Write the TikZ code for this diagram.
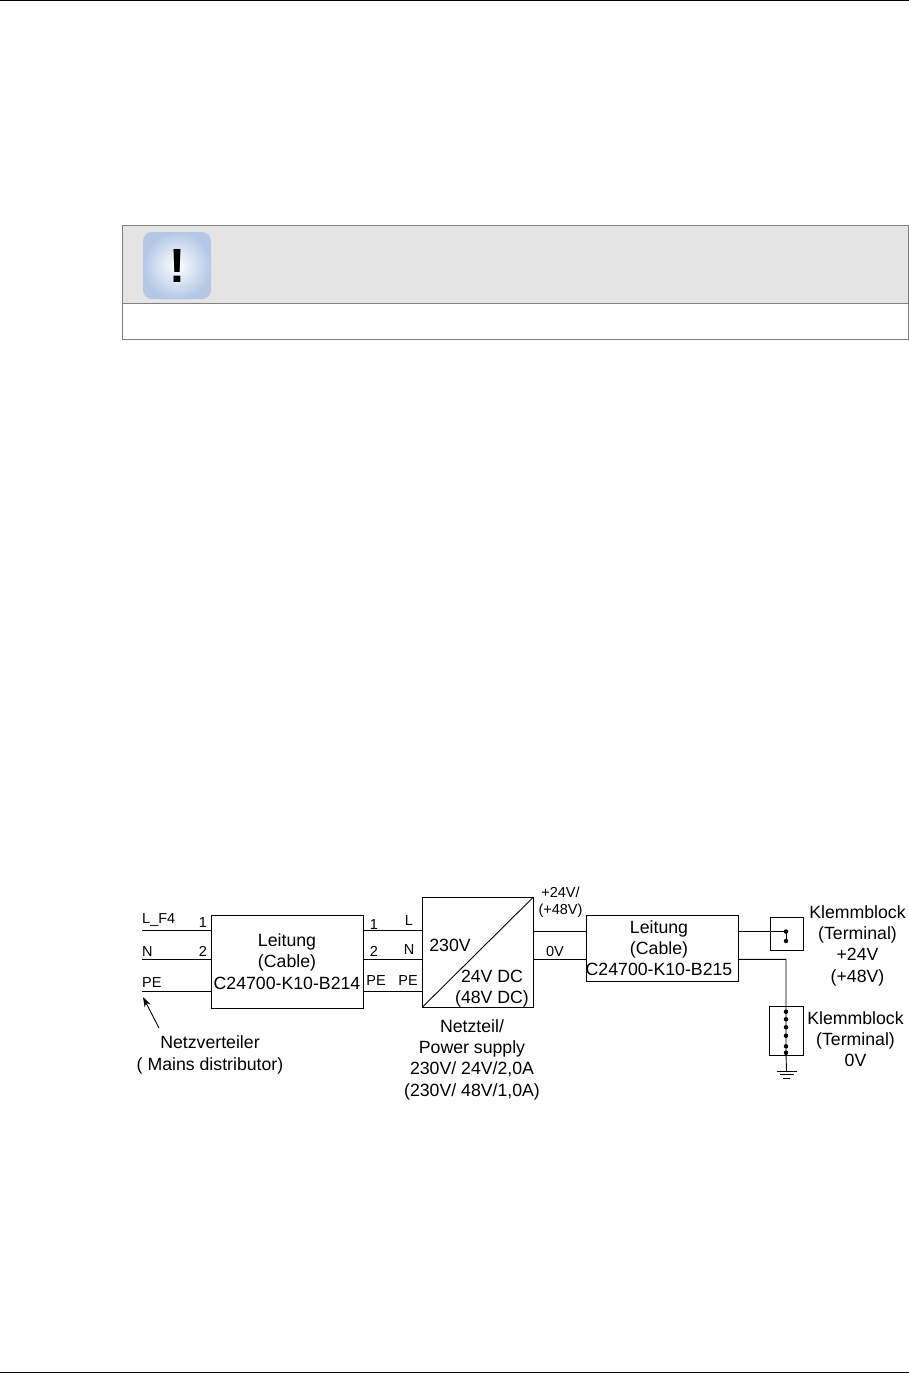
\documentclass[tikz,border=0pt]{standalone}
\usepackage{fontspec}
\setmainfont{Liberation Sans}
\usepackage{xcolor}
\usetikzlibrary{arrows.meta,positioning}
\definecolor{notegray}{HTML}{E4E4E4}
\definecolor{noteline}{HTML}{808080}
\definecolor{iconblue}{HTML}{B4C8E6}

\begin{document}
\begin{tikzpicture}[
    x=1pt, y=-1pt,
    box/.style = {rectangle, draw=black, line width=0.9pt, inner sep=0pt, outer sep=0pt, align=center,
                  font=\fontsize{17.7}{21.3}\selectfont},
    wire/.style = {draw=black, line width=0.9pt},
    pinlabel/.style = {inner sep=0pt, font=\fontsize{14.5}{16}\selectfont},
    caption/.style = {inner sep=0pt, align=center, font=\fontsize{17.7}{21.3}\selectfont},
    dot/.style = {circle, fill=black, inner sep=0pt, minimum size=4.5pt},
    arrow/.style = {-{Stealth[length=10pt,width=6.5pt]}, line width=0.9pt}
  ]
    \useasboundingbox (0,0) rectangle (909,1373);
    % page rules
    \draw[line width=1pt] (0,0.5) -- (909,0.5);
    \draw[line width=1pt] (0,1372) -- (909,1372);

    % note table
    \node[rectangle, draw=noteline, fill=notegray, line width=1pt, inner sep=0pt,
          minimum width=786pt, minimum height=78pt] (notehead) at (515,264) {};
    \node[rectangle, draw=noteline, line width=1pt, inner sep=0pt,
          minimum width=786pt, minimum height=36pt] (notebody) at (515,321) {};
    \node[rectangle, rounded corners=9pt, inner sep=0pt, minimum width=68pt, minimum height=67pt,
          inner color=white, outer color=iconblue, font=\fontsize{48}{48}\selectfont\bfseries] (icon) at (177,265.5) {!};

    % main boxes
    \node[box, minimum width=152pt, minimum height=93pt] (cab1) at (287,961.5)
        {Leitung\\(Cable)\\C24700-K10-B214};
    \node[box, minimum width=111pt, minimum height=110pt] (psu) at (478,952) {};
    \node[box, minimum width=152pt, minimum height=66pt] (cab2) at (662,948) {};
    \node[caption] (cab2text) at (659,948) {Leitung\\(Cable)\\C24700-K10-B215};
    \node[box, minimum width=33pt, minimum height=33pt] (term1) at (786.5,933.5) {};
    \node[box, minimum width=34pt, minimum height=49pt] (term2) at (786.5,1030.5) {};
    \draw[wire] (psu.south west) -- (psu.north east);

    % supply lines
    \coordinate (lf) at (142,930.5);
    \coordinate (ln) at (142,959.5);
    \coordinate (lpe) at (142,991);
    \draw[wire] (lf) -- (lf -| cab1.west);
    \draw[wire] (ln) -- (ln -| cab1.west);
    \draw[wire] (lpe) -- (lpe -| cab1.west);
    \draw[wire] (lf -| cab1.east) -- (lf -| psu.west);
    \draw[wire] (ln -| cab1.east) -- (ln -| psu.west);
    \draw[wire] (lpe -| cab1.east) -- (lpe -| psu.west);

    % output lines
    \coordinate (opos) at (560,931.3);
    \coordinate (oneg) at (560,959.3);
    \draw[wire] (opos -| psu.east) -- (opos -| cab2.west);
    \draw[wire] (oneg -| psu.east) -- (oneg -| cab2.west);

    % terminal dots
    \node[dot] (a1) at (786,931.5) {};
    \node[dot] (a2) at (786,941) {};
    \node[dot] (b1) at (786,1011.7) {};
    \node[dot] (b2) at (786,1019.3) {};
    \node[dot] (b3) at (786,1027.3) {};
    \node[dot] (b4) at (786,1035.7) {};
    \node[dot] (b5) at (786,1046.3) {};
    \node[dot] (b6) at (786,1052.7) {};
    \coordinate (gnd) at (786.5,1071);
    \draw[wire] (a1 -| cab2.east) -- (a1.center) -- (a2.center);
    \draw[wire] (oneg -| cab2.east) -- (oneg -| a1) -- (b1.center) -- (b6.center) -- (gnd);
    \draw[wire] ([xshift=-10pt]gnd) -- ([xshift=10pt]gnd);
    \draw[wire] ([xshift=-7pt,yshift=-3.5pt]gnd) -- ([xshift=7pt,yshift=-3.5pt]gnd);
    \draw[wire] ([xshift=-3.5pt,yshift=-7pt]gnd) -- ([xshift=3.5pt,yshift=-7pt]gnd);

    % pin labels
    \node[pinlabel, anchor=west] (tlf) at (142,919.5) {L\_F4};
    \node[pinlabel, anchor=west] (tn) at (142,951) {N};
    \node[pinlabel, anchor=west] (tpe) at (142,982.5) {PE};
    \node[pinlabel] (p1a) at (203,922.5) {1};
    \node[pinlabel] (p2a) at (203,951.5) {2};
    \node[pinlabel] (p1b) at (374,924.5) {1};
    \node[pinlabel] (p2b) at (374,951.5) {2};
    \node[pinlabel] (ppe) at (376,980.5) {PE};
    \node[pinlabel] (pl) at (409,920.5) {L};
    \node[pinlabel] (pn) at (409,949) {N};
    \node[pinlabel] (pe2) at (408,980.5) {PE};
    \node[pinlabel, align=center, font=\fontsize{14.5}{17}\selectfont] (vpos) at (560.5,902) {+24V/\\(+48V)};
    \node[pinlabel] (vneg) at (555,951) {0V};

    % captions
    \node[caption] (tin) at (450,945.5) {230V};
    \node[caption, align=center] (tout) at (492,988.5) {24V DC\\(48V DC)};
    \node[caption] (psucap) at (472,1059.5) {Netzteil/\\Power supply\\230V/ 24V/2,0A\\(230V/ 48V/1,0A)};
    \node[caption] (dist) at (210,1055) {Netzverteiler\\( Mains distributor)};
    \node[caption] (cap1) at (857.5,945.5) {Klemmblock\\(Terminal)\\+24V\\(+48V)};
    \node[caption] (cap2) at (855.5,1039) {Klemmblock\\(Terminal)\\0V};
    \coordinate (tip) at (143,997);
    \coordinate (tail) at (159,1028);
    \draw[arrow] (tail) -- (tip);
\end{tikzpicture}
\end{document}
